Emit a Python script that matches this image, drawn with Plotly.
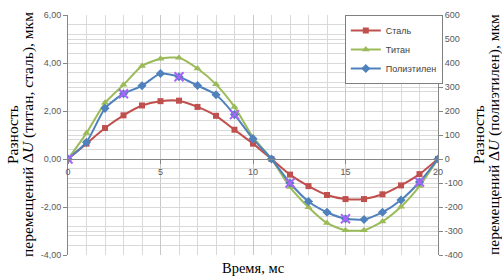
import plotly.graph_objects as go

time_ms = [0, 1, 2, 3, 4, 5, 6, 7, 8, 9, 10, 11, 12, 13, 14, 15, 16, 17, 18, 19, 20]
steel = [0, 0.64, 1.29, 1.82, 2.23, 2.41, 2.43, 2.17, 1.80, 1.22, 0.64, 0,
         -0.65, -1.13, -1.50, -1.67, -1.67, -1.47, -1.10, -0.63, 0]
titanium = [0, 1.08, 2.34, 3.09, 3.88, 4.18, 4.22, 3.77, 3.11, 2.17, 0.91, 0,
            -1.17, -2.01, -2.67, -2.97, -2.97, -2.60, -1.99, -1.13, 0]
polyethylene = [0, 70, 211, 272, 305, 356, 343, 306, 268, 185, 84, 0,
                -100, -177, -222, -249, -252, -222, -171, -96, 0]
poly_x_marked = [0, 3, 6, 9, 12, 15, 19]

left_ticks = [-4, -2, 0, 2, 4, 6]
left_labels = ["-4,00", "-2,00", "0,00", "2,00", "4,00", "6,00"]
right_ticks = [-400, -300, -200, -100, 0, 100, 200, 300, 400, 500, 600]
right_labels = ["-400", "-300", "-200", "-100", "0", "100", "200", "300", "400", "500", "600"]
x_ticks = [0, 5, 10, 15, 20]
x_labels = ["0", "5", "10", "15", "20"]

RED = "#c0504d"
GREEN = "#9bbb59"
BLUE = "#4f81bd"
GRID = "#d9d9d9"
AXIS = "#868686"
TICKFONT = dict(family="Liberation Sans", size=9, color="#595959")
SERIF = "Liberation Serif"

fig = go.Figure()
fig.add_trace(go.Scatter(x=time_ms, y=steel, name="Сталь", mode="lines+markers",
                         line=dict(color=RED, width=2, shape="spline", smoothing=0.6),
                         marker=dict(symbol="square", size=6, color=RED)))
fig.add_trace(go.Scatter(x=time_ms, y=titanium, name="Титан", mode="lines+markers",
                         line=dict(color=GREEN, width=2, shape="spline", smoothing=0.6),
                         marker=dict(symbol="triangle-up", size=7, color=GREEN)))
fig.add_trace(go.Scatter(x=time_ms, y=polyethylene, name="Полиэтилен", mode="lines+markers",
                         yaxis="y2",
                         line=dict(color=BLUE, width=2, shape="spline", smoothing=0.6),
                         marker=dict(symbol="diamond", size=7, color=BLUE)))
fig.add_trace(go.Scatter(x=[time_ms[i] for i in poly_x_marked],
                         y=[polyethylene[i] for i in poly_x_marked],
                         yaxis="y2", mode="markers", showlegend=False,
                         marker=dict(symbol="x-thin-open", size=9,
                                     line=dict(color="#8db3e2", width=2))))


def vtitle(text, px):
    return dict(text=text, xref="paper", yref="paper", x=(px - 68) / 370, y=0.5,
                xanchor="center", yanchor="middle", textangle=-90, showarrow=False,
                font=dict(family=SERIF, size=15.5, color="#000000"))


fig.update_layout(
    width=502, height=276,
    margin=dict(l=68, r=64, t=10, b=21),
    paper_bgcolor="white", plot_bgcolor="white",
    showlegend=True,
    legend=dict(x=1.013, xanchor="right", y=1.0, yanchor="top",
                bgcolor="white", bordercolor="#7f7f7f", borderwidth=1,
                font=dict(family="Liberation Sans", size=9, color="#404040"),
                itemwidth=30, tracegroupgap=0),
    xaxis=dict(range=[0, 20], tickvals=x_ticks, ticktext=x_labels,
               anchor="free", position=0.4,
               showline=True, linecolor=AXIS, linewidth=1,
               ticks="outside", ticklen=4, tickcolor=AXIS,
               showgrid=True, gridcolor="#c8c8c8", gridwidth=1,
               minor=dict(dtick=1, showgrid=True, gridcolor=GRID, gridwidth=1),
               zeroline=False, tickfont=TICKFONT),
    yaxis=dict(range=[-4, 6], tickvals=left_ticks, ticktext=left_labels,
               showline=True, linecolor=AXIS, linewidth=1,
               ticks="outside", ticklen=4, tickcolor=AXIS,
               showgrid=True, gridcolor="#c8c8c8", gridwidth=1,
               minor=dict(dtick=0.4, tick0=0, showgrid=True, gridcolor=GRID, gridwidth=1),
               zeroline=True, zerolinecolor=AXIS, zerolinewidth=1,
               tickfont=TICKFONT),
    yaxis2=dict(range=[-400, 600], tickvals=right_ticks, ticktext=right_labels,
                overlaying="y", side="right",
                showline=True, linecolor=AXIS, linewidth=1,
                ticks="outside", ticklen=4, tickcolor=AXIS,
                showgrid=True, gridcolor=GRID, gridwidth=1,
                zeroline=False, tickfont=TICKFONT),
    annotations=[
        vtitle("Разность", 12),
        vtitle("перемещений Δ<i>U</i> (титан, сталь), мкм", 28),
        vtitle("Разность", 478),
        vtitle("перемещений Δ<i>U</i> (полиэтилен), мкм", 494),
        dict(text="Время, мс", xref="paper", yref="paper", x=0.5, y=-0.053,
             xanchor="center", yanchor="middle", showarrow=False,
             font=dict(family=SERIF, size=14.5, color="#000000")),
    ],
)

fig.write_html("out.html", config={"displayModeBar": False},
               post_script="document.body.style.margin='0';document.body.style.overflow='hidden';")
